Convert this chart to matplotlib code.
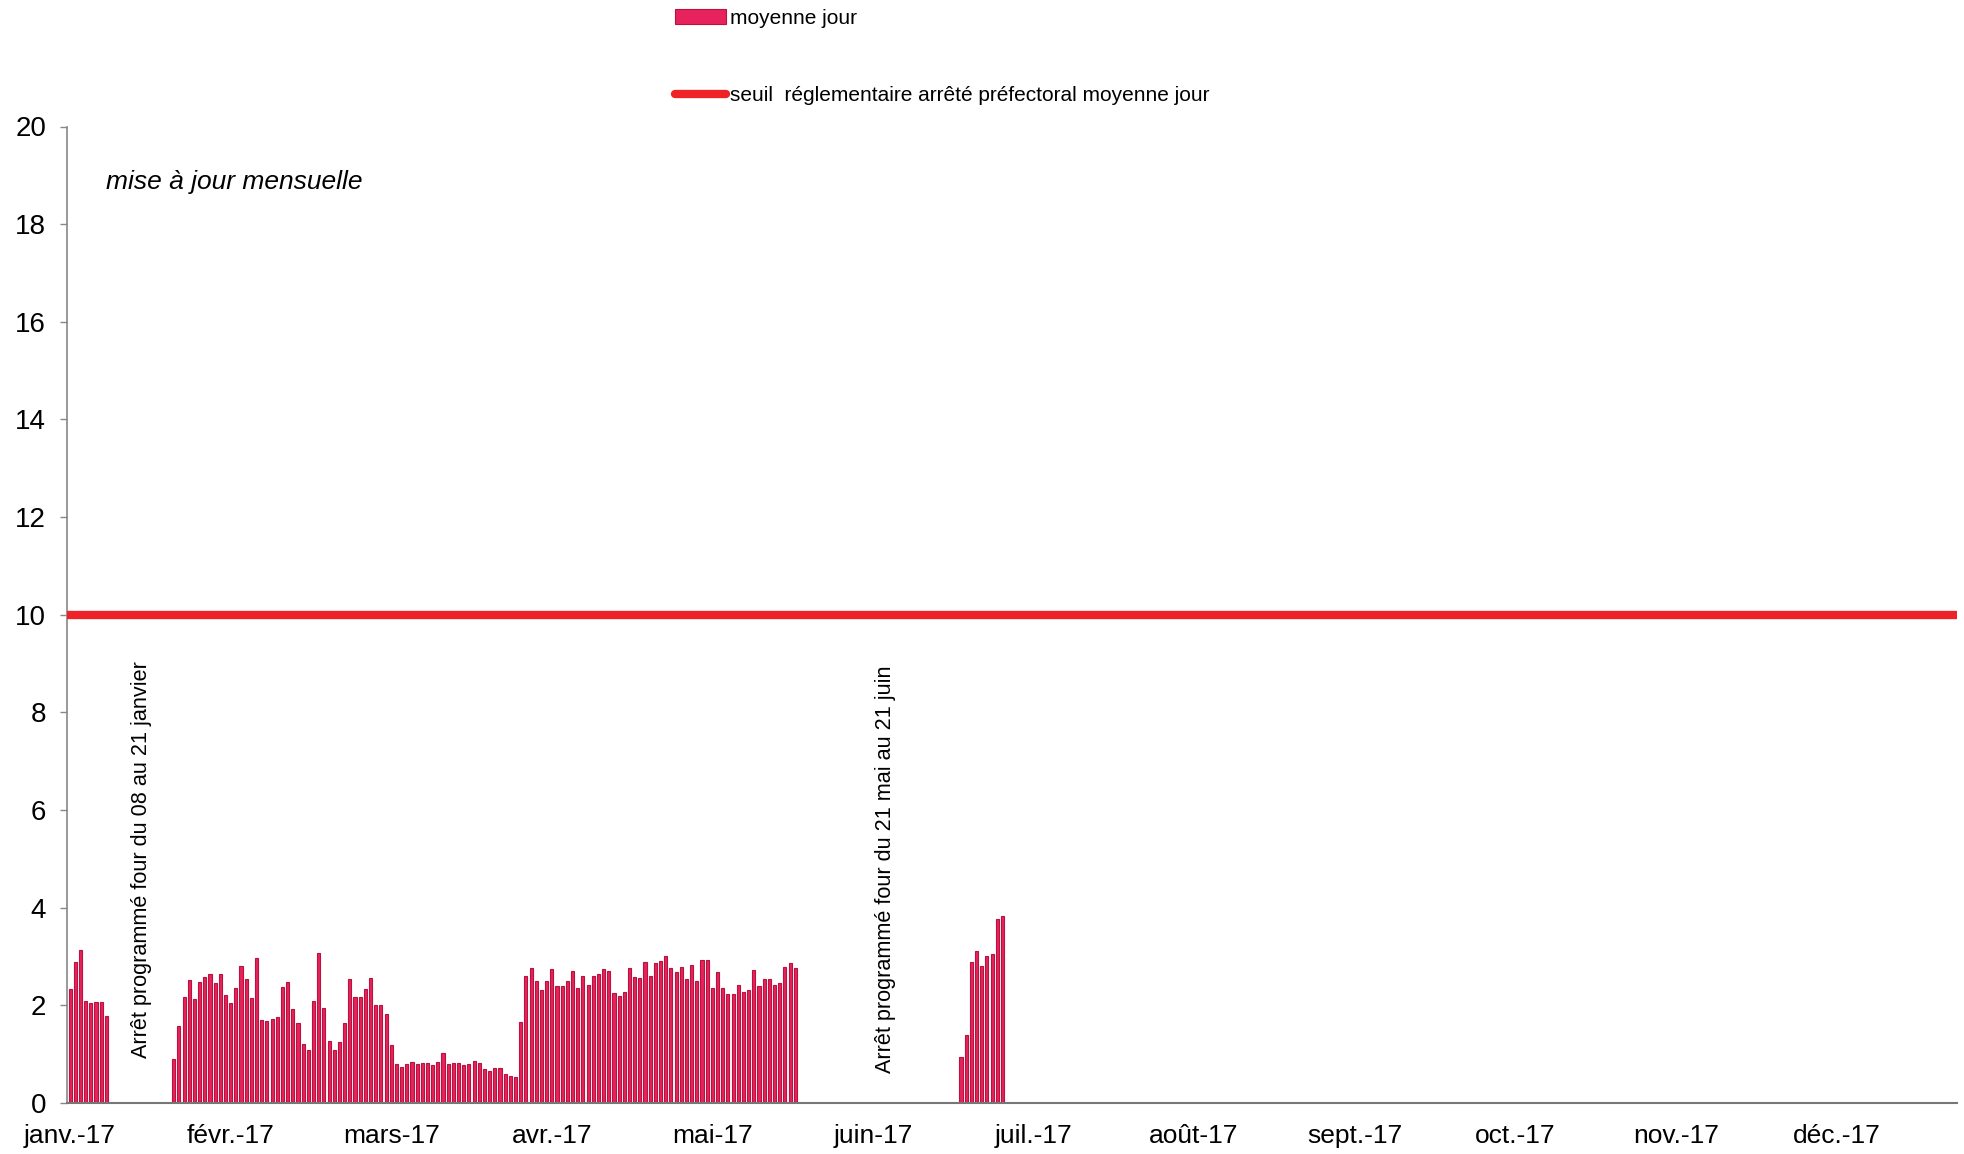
import numpy as np
import matplotlib
matplotlib.use("Agg")
import matplotlib.pyplot as plt

plt.rcParams['font.family'] = ['Liberation Sans', 'DejaVu Sans']

# daily mean values, by consecutive stretch (day 0 = 1 Jan 2017)
jan_start = 0
jan_values = [2.34, 2.89, 3.14, 2.09, 2.04, 2.07, 2.07, 1.78]

feb_start = 20
feb_may_values = [0.90, 1.58, 2.17, 2.51, 2.13, 2.48, 2.58, 2.64, 2.46, 2.64,
                  2.21, 2.05, 2.36, 2.80, 2.53, 2.16, 2.98, 1.71, 1.68, 1.73,
                  1.76, 2.38, 2.47, 1.93, 1.64, 1.20, 1.09, 2.08, 3.07, 1.94,
                  1.28, 1.09, 1.25, 1.63, 2.54, 2.17, 2.17, 2.34, 2.57, 2.00,
                  2.00, 1.82, 1.19, 0.80, 0.74, 0.79, 0.83, 0.79, 0.81, 0.81,
                  0.78, 0.83, 1.02, 0.79, 0.81, 0.82, 0.78, 0.79, 0.86, 0.82,
                  0.70, 0.66, 0.72, 0.72, 0.59, 0.56, 0.53, 1.66,
                  2.60, 2.77, 2.49, 2.32, 2.49, 2.74, 2.39, 2.39, 2.49, 2.70,
                  2.36, 2.60, 2.42, 2.60, 2.64, 2.74, 2.70, 2.26, 2.19, 2.28,
                  2.76, 2.58, 2.55, 2.88, 2.60, 2.87, 2.90, 3.02, 2.76, 2.68,
                  2.79, 2.54, 2.83, 2.50, 2.92, 2.92, 2.36, 2.68, 2.35, 2.24,
                  2.24, 2.42, 2.28, 2.32, 2.73, 2.40, 2.54, 2.54, 2.42, 2.46,
                  2.79, 2.86, 2.76]

jun_start = 172
jun_values = [0.94, 1.40, 2.89, 3.11, 2.81, 3.01, 3.06, 3.76, 3.83]

seuil = 10

month_labels = ['janv.-17', 'févr.-17', 'mars-17', 'avr.-17', 'mai-17', 'juin-17',
                'juil.-17', 'août-17', 'sept.-17', 'oct.-17', 'nov.-17', 'déc.-17']

days = np.concatenate([np.arange(jan_start, jan_start + len(jan_values)),
                       np.arange(feb_start, feb_start + len(feb_may_values)),
                       np.arange(jun_start, jun_start + len(jun_values))])
values = np.concatenate([jan_values, feb_may_values, jun_values])

fig = plt.figure(figsize=(19.64, 11.54), dpi=100)
ax = fig.add_axes([67/1964, 1 - 1103/1154, 1890/1964, 976.5/1154])

bars = ax.bar(days, values, width=0.6, color='#e8225c', edgecolor='#b8123f',
              linewidth=0.8, label='moyenne jour', zorder=2)
line = ax.axhline(seuil, color='#ee2328', linewidth=6, solid_capstyle='round',
                  label='seuil  réglementaire arrêté préfectoral moyenne jour', zorder=3)

ax.set_xlim(-0.6, 364.3)
ax.set_ylim(0, 20)
ax.set_yticks(np.arange(0, 21, 2))
ax.set_xticks(np.arange(len(month_labels)) * 31)
ax.set_xticklabels(month_labels)
ax.tick_params(axis='x', length=0, pad=15, labelsize=19)
ax.tick_params(axis='y', length=5, width=1, color='#888888', pad=10, labelsize=20)

for s in ['top', 'right']:
    ax.spines[s].set_visible(False)
ax.spines['left'].set_color('#888888')
ax.spines['bottom'].set_color('#777777')
ax.spines['left'].set_linewidth(1.2)
ax.spines['bottom'].set_linewidth(1.5)

ax.text(7, 18.87, 'mise à jour mensuelle', fontsize=19, style='italic',
        ha='left', va='center')
ax.text(13.8, 0.92, 'Arrêt programmé four du 08 au 21 janvier', fontsize=15.6,
        rotation=90, ha='center', va='bottom')
ax.text(157.5, 0.61, 'Arrêt programmé four du 21 mai au 21 juin', fontsize=15.6,
        rotation=90, ha='center', va='bottom')

fig.legend(handles=[bars, line], loc='upper left', bbox_to_anchor=(660/1964, 1.005),
           frameon=False, fontsize=15, handlelength=2.45, handletextpad=0.2,
           labelspacing=2.8, borderpad=0.2)

fig.savefig('out.png', dpi=100)
